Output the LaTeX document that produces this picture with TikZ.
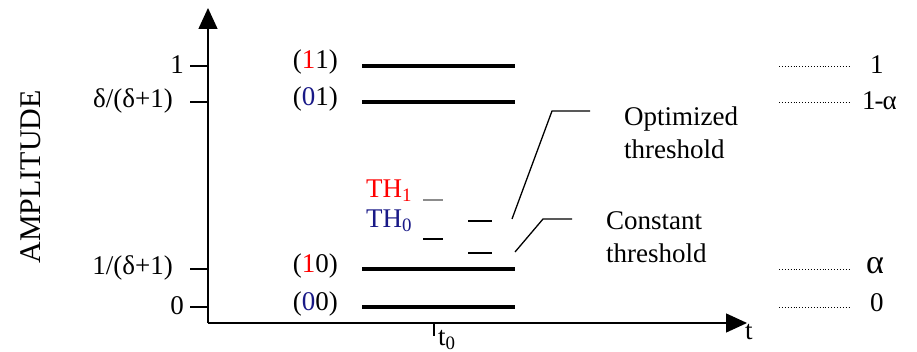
\documentclass[tikz,border=0pt]{standalone}
\usepackage{fontspec}
\setmainfont{Liberation Serif}
\usetikzlibrary{arrows.meta}
\definecolor{navy}{RGB}{25,25,135}
\definecolor{thgray}{RGB}{140,140,140}
\begin{document}
\begin{tikzpicture}[x=1pt,y=-1pt,
  axis/.style={line width=1.4pt,-{Triangle[length=21pt,width=19pt]}},
  tick/.style={line width=1.4pt},
  level/.style={line width=4.8pt},
  thr/.style={line width=1.8pt},
  leader/.style={line width=1.3pt},
  dots/.style={line width=0.9pt,dotted},
  lbl/.style={font=\fontsize{27}{33}\selectfont,inner sep=0pt},
  big/.style={font=\fontsize{30}{32}\selectfont,inner sep=0pt}]
\useasboundingbox (0,0) rectangle (917,352);
% axes
\coordinate (O) at (208,323);
\coordinate (ytop) at (208,8);
\coordinate (xend) at (747,323);
\draw[axis] (O) -- (ytop);
\draw[axis] (O) -- (xend);
\node[big,rotate=90] (amp) at (31,177) {AMPLITUDE};
\node[lbl,anchor=north west] (t) at (745,324) {t};
% y ticks
\foreach \n/\y in {a/66,b/102,c/269,d/307}{
  \coordinate (yt\n) at (208,\y);
  \draw[tick] (yt\n) -- ++(-18,0);
}
\node[lbl,anchor=east] (l1) at (184,65) {1};
\node[lbl,anchor=east] (l2) at (173,101) {δ/(δ+1)};
\node[lbl,anchor=east] (l3) at (173,268) {1/(δ+1)};
\node[lbl,anchor=east] (l4) at (184,306) {0};
% t0
\coordinate (t0) at (434,323);
\draw[tick] (t0) -- ++(0,13);
\node[lbl,anchor=west] (t0l) at (438,340) {t\textsubscript{0}};
% levels
\foreach \y in {66,102,269,307}{
  \draw[level] (362,\y) -- (515,\y);
}
\node[lbl,anchor=east] (s11) at (338,62) {(\textcolor{red}{1}1)};
\node[lbl,anchor=east] (s01) at (338,99) {(\textcolor{navy}{0}1)};
\node[lbl,anchor=east] (s10) at (338,266) {(\textcolor{red}{1}0)};
\node[lbl,anchor=east] (s00) at (338,304) {(\textcolor{navy}{0}0)};
% thresholds
\node[lbl,anchor=west,text=red] (th1) at (366,191) {TH\textsubscript{1}};
\node[lbl,anchor=west,text=navy] (th0) at (366,221) {TH\textsubscript{0}};
\draw[thr,thgray] (423,200) -- (443,200);
\draw[thr] (423,239) -- (443,239);
\draw[thr] (468,221) -- (492,221);
\draw[thr] (468,253) -- (492,253);
% leaders
\node[lbl,anchor=west,align=left] (opt) at (624,133) {Optimized\\threshold};
\node[lbl,anchor=west,align=left] (con) at (606,237) {Constant\\threshold};
\coordinate (oa) at (512,219);
\coordinate (ob) at (552,111);
\coordinate (oc) at (590,111);
\coordinate (ca) at (515,252);
\coordinate (cb) at (543,219);
\coordinate (cc) at (572,219);
\draw[leader] (oa) -- (ob) -- (oc);
\draw[leader] (ca) -- (cb) -- (cc);
% right scale
\foreach \n/\y in {a/66,b/102,c/269,d/307}{
  \coordinate (rd\n) at (779,\y);
  \draw[dots] (rd\n) -- ++(70,0);
}
\node[lbl,anchor=west] (r1) at (870,65) {1};
\node[lbl,anchor=west] (r2) at (862,101) {1\kern-1pt-\kern-1ptα};
\node[big,anchor=west,font=\fontsize{34}{36}\selectfont] (r3) at (866,266) {α};
\node[lbl,anchor=west] (r4) at (870,303) {0};
\end{tikzpicture}
\end{document}
